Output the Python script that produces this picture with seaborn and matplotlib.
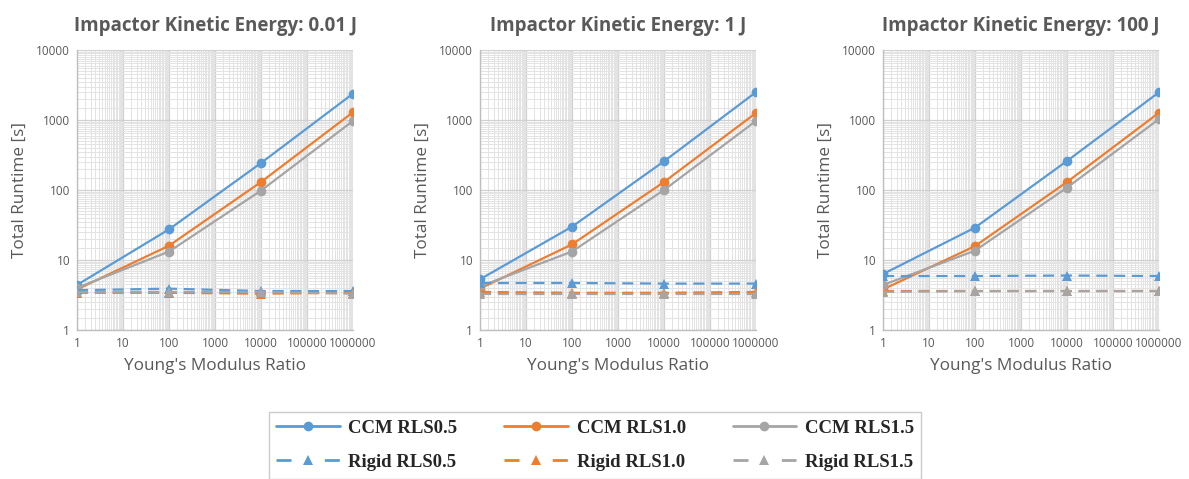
import numpy as np
import pandas as pd
import matplotlib
matplotlib.use("Agg")
import matplotlib.pyplot as plt
import matplotlib.ticker as mticker
import seaborn as sns

ratios = [1, 100, 10000, 1000000]
energies = ["0.01 J", "1 J", "100 J"]
series_names = ["CCM RLS0.5", "CCM RLS1.0", "CCM RLS1.5",
                "Rigid RLS0.5", "Rigid RLS1.0", "Rigid RLS1.5"]

# runtimes [s] per panel
ccm05 = [[4.4, 27.4, 243, 2380], [5.3, 29.9, 257, 2500], [6.3, 29, 260, 2490]]
ccm10 = [[3.8, 16, 130, 1290], [3.9, 16.7, 130, 1260], [3.8, 15.8, 130, 1270]]
ccm15 = [[4.0, 13.2, 98, 970], [4.2, 13.2, 100, 970], [4.4, 13.6, 108, 1030]]
rigid05 = [[3.7, 3.9, 3.6, 3.6], [4.7, 4.7, 4.6, 4.6], [5.9, 5.9, 6.0, 5.9]]
rigid10 = [[3.4, 3.4, 3.3, 3.4], [3.5, 3.4, 3.4, 3.5], [3.6, 3.6, 3.6, 3.6]]
rigid15 = [[3.5, 3.5, 3.5, 3.3], [3.3, 3.3, 3.3, 3.3], [3.5, 3.6, 3.6, 3.6]]

all_series = [ccm05, ccm10, ccm15, rigid05, rigid10, rigid15]
colors = ["#5B9BD5", "#ED7D31", "#A5A5A5"] * 2
markers = ["o"] * 3 + ["^"] * 3
dashes = ["-"] * 3 + [(0, (5, 3))] * 3

sns.set_style("white")
plt.rcParams["font.family"] = ["Open Sans", "DejaVu Sans"]
txt = "#595959"

fig = plt.figure(figsize=(11.89, 4.79), dpi=100)
lefts = [77, 480, 883]
axes = []
for i, e in enumerate(energies):
    ax = fig.add_axes([lefts[i] / 1189, 1 - 330 / 479, 276 / 1189, 280 / 479])
    axes.append(ax)
    for s, name in enumerate(series_names):
        df = pd.DataFrame({"x": ratios, "y": all_series[s][i]})
        sns.lineplot(data=df, x="x", y="y", ax=ax, color=colors[s], marker=markers[s],
                     linestyle=dashes[s], linewidth=1.6, markersize=7,
                     markeredgewidth=0, label=name, legend=False, zorder=3)
    ax.set_xscale("log")
    ax.set_yscale("log")
    ax.set_xlim(1, 1e6)
    ax.set_ylim(1, 1e4)
    ax.xaxis.set_major_locator(mticker.LogLocator(base=10, numticks=10))
    ax.yaxis.set_major_locator(mticker.LogLocator(base=10, numticks=10))
    ax.xaxis.set_minor_locator(mticker.LogLocator(base=10, subs=np.arange(1, 10, 0.5), numticks=20))
    ax.yaxis.set_minor_locator(mticker.LogLocator(base=10, subs=np.arange(1, 10, 0.5), numticks=20))
    ax.xaxis.set_major_formatter(mticker.FuncFormatter(lambda v, p: f"{v:.0f}"))
    ax.yaxis.set_major_formatter(mticker.FuncFormatter(lambda v, p: f"{v:.0f}"))
    ax.xaxis.set_minor_formatter(mticker.NullFormatter())
    ax.yaxis.set_minor_formatter(mticker.NullFormatter())
    ax.grid(True, which="major", color="#D0D0D0", linewidth=0.9)
    ax.grid(True, which="minor", color="#E3E3E3", linewidth=0.7)
    ax.tick_params(axis="both", which="both", length=0, labelsize=8.5, labelcolor=txt, pad=5)
    for sp in ["top", "right"]:
        ax.spines[sp].set_visible(False)
    for sp in ["left", "bottom"]:
        ax.spines[sp].set_color("#BFBFBF")
        ax.spines[sp].set_linewidth(1)
    ax.set_xlabel("Young's Modulus Ratio", fontsize=12.3, color=txt, labelpad=6)
    ax.set_ylabel("Total Runtime [s]", fontsize=12.3, color=txt, labelpad=6)
    ax.set_title(f"Impactor Kinetic Energy: {e}", fontsize=13.5, fontweight="bold",
                 color=txt, pad=14)

handles, labels = axes[0].get_legend_handles_labels()
order = [0, 3, 1, 4, 2, 5]
leg = fig.legend([handles[k] for k in order], [labels[k] for k in order],
                 loc="upper center", bbox_to_anchor=(595 / 1189, 1 - 403 / 479), ncol=3,
                 frameon=True, fancybox=False, edgecolor="#BFBFBF",
                 prop={"family": "Liberation Serif", "size": 13.5, "weight": "bold"},
                 handlelength=3.4, handletextpad=0.45, columnspacing=2.5,
                 labelspacing=0.9, borderpad=0.4)
leg.get_frame().set_linewidth(1)
for ln in leg.get_lines():
    ln.set_linewidth(2)
    if ln.get_marker() == "^":
        ln.set_linestyle((0, (5.4, 12)))

fig.savefig("out.png", dpi=100, facecolor="white")
